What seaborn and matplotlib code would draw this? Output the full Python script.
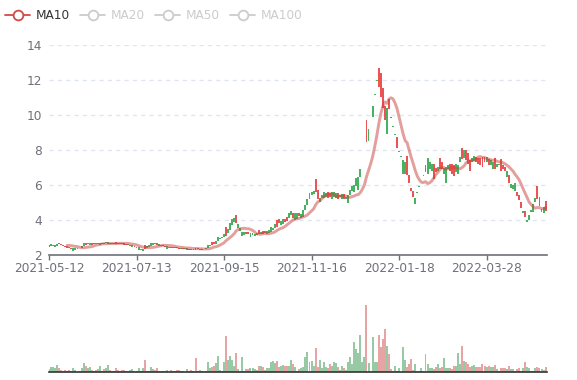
import numpy as np
import pandas as pd
import matplotlib
matplotlib.use('Agg')
import matplotlib.pyplot as plt
import seaborn as sns

# white background, no seaborn grid (we draw the dashed one ourselves)
sns.set_theme(style='white')
plt.rcParams['font.family'] = ['DejaVu Sans']

#
# data (one candle per trading day)
#

tick_labels = ['2021-05-12', '2021-07-13', '2021-09-15',
               '2021-11-16', '2022-01-18', '2022-03-28']
tick_step = 43

opens = [
    2.45, 2.60, 2.56, 2.55, 2.62, 2.58, 2.55, 2.49, 2.44, 2.39,
    2.37, 2.34, 2.38, 2.36, 2.34, 2.40, 2.50, 2.68, 2.55, 2.66,
    2.64, 2.57, 2.60, 2.60, 2.66, 2.66, 2.60, 2.60, 2.69, 2.70,
    2.60, 2.66, 2.65, 2.60, 2.62, 2.66, 2.59, 2.57, 2.56, 2.58,
    2.56, 2.52, 2.42, 2.45, 2.42, 2.32, 2.34, 2.32, 2.50, 2.52,
    2.65, 2.66, 2.58, 2.55, 2.58, 2.54, 2.46, 2.44, 2.46, 2.44,
    2.38, 2.38, 2.41, 2.35, 2.34, 2.38, 2.33, 2.36, 2.36, 2.27,
    2.26, 2.31, 2.24, 2.30, 2.34, 2.27, 2.33, 2.38, 2.54, 2.56,
    2.55, 2.62, 2.78, 2.98, 2.92, 3.00, 3.15, 3.06, 3.45, 3.78,
    4.05, 4.08, 3.78, 3.72, 3.50, 3.30, 3.30, 3.15, 3.18, 3.22,
    3.25, 3.20, 3.22, 3.18, 3.30, 3.20, 3.22, 3.32, 3.40, 3.58,
    3.52, 3.74, 3.57, 3.78, 3.92, 4.02, 3.85, 3.90, 4.37, 4.50,
    4.10, 4.35, 4.40, 4.20, 4.32, 4.54, 4.83, 5.17, 5.53, 5.60,
    5.65, 5.60, 5.20, 5.21, 5.40, 5.55, 5.50, 5.25, 5.30, 5.60,
    5.55, 5.50, 5.20, 5.40, 5.45, 5.15, 5.30, 5.40, 5.70, 5.90,
    6.00, 6.40, 6.45, 6.90, 7.20, 8.00, 8.45, 9.20, 9.06, 10.50,
    11.17, 11.99, 11.60, 11.00, 10.40, 9.70, 10.40, 10.30, 9.80, 9.30,
    8.90, 8.10, 7.90, 7.60, 7.40, 7.30, 6.55, 6.10, 5.65, 5.30,
    5.25, 5.55, 5.90, 6.20, 6.50, 6.70, 7.50, 7.30, 7.20, 6.30,
    6.70, 7.00, 6.90, 6.90, 6.95, 7.00, 7.10, 6.80, 6.60, 6.50,
    7.20, 7.10, 7.60, 7.45, 8.00, 7.40, 7.20, 6.80, 7.50, 7.65,
    7.30, 7.20, 7.10, 7.00, 7.30, 7.60, 7.10, 7.40, 7.30, 6.90,
    7.20, 7.15, 6.75, 6.90, 6.80, 6.80, 6.10, 6.05, 6.00, 6.10,
    5.35, 5.10, 4.65, 4.50, 4.15, 4.00, 4.25, 4.55, 4.90, 5.22,
    5.20, 4.80, 4.60, 4.73, 4.50,
]

closes = [
    2.55, 2.48, 2.46, 2.45, 2.50, 2.67, 2.62, 2.56, 2.51, 2.46,
    2.43, 2.40, 2.22, 2.28, 2.32, 2.35, 2.40, 2.50, 2.66, 2.58,
    2.56, 2.63, 2.65, 2.66, 2.58, 2.55, 2.64, 2.68, 2.63, 2.58,
    2.67, 2.62, 2.61, 2.69, 2.68, 2.62, 2.65, 2.63, 2.60, 2.52,
    2.48, 2.44, 2.48, 2.39, 2.28, 2.24, 2.22, 2.55, 2.40, 2.44,
    2.50, 2.56, 2.66, 2.68, 2.50, 2.48, 2.52, 2.50, 2.30, 2.40,
    2.45, 2.43, 2.36, 2.41, 2.40, 2.34, 2.38, 2.33, 2.27, 2.33,
    2.34, 2.25, 2.40, 2.36, 2.27, 2.33, 2.29, 2.32, 2.35, 2.46,
    2.72, 2.70, 2.62, 2.75, 2.86, 2.92, 3.00, 3.55, 3.22, 3.42,
    3.70, 3.88, 4.25, 3.50, 3.32, 3.05, 3.12, 3.28, 3.26, 3.02,
    3.12, 3.05, 3.10, 3.38, 3.15, 3.35, 3.32, 3.18, 3.22, 3.30,
    3.40, 3.50, 3.97, 4.03, 3.68, 3.76, 4.05, 4.12, 4.08, 4.26,
    4.35, 4.00, 4.05, 4.35, 4.10, 4.16, 4.54, 4.83, 5.17, 5.40,
    5.45, 6.30, 5.70, 5.02, 5.25, 5.25, 5.30, 5.55, 5.50, 5.20,
    5.30, 5.25, 5.50, 5.30, 5.20, 5.45, 5.15, 4.95, 5.40, 5.65,
    5.60, 5.90, 5.70, 6.45, 7.15, 7.95, 9.70, 8.50, 9.04, 9.87,
    11.13, 11.95, 12.67, 12.40, 11.50, 10.50, 8.90, 10.90, 9.82, 9.28,
    8.85, 8.70, 7.88, 7.58, 6.60, 6.60, 7.65, 6.55, 5.80, 5.62,
    4.90, 5.52, 5.88, 6.18, 6.48, 7.10, 6.60, 6.90, 6.80, 7.20,
    6.95, 6.80, 7.50, 7.30, 6.60, 6.10, 6.90, 7.20, 7.20, 7.10,
    6.70, 6.60, 7.30, 8.10, 7.50, 7.95, 7.80, 7.40, 7.30, 7.35,
    7.60, 7.50, 7.50, 7.55, 7.60, 7.30, 7.45, 7.10, 6.90, 7.50,
    7.00, 7.12, 7.45, 7.10, 7.00, 6.45, 6.55, 5.80, 5.75, 5.65,
    5.55, 5.40, 4.98, 4.35, 4.50, 3.85, 4.00, 4.45, 4.45, 5.00,
    5.90, 5.30, 4.45, 4.35, 5.05,
]

volumes = [
    5, 8, 8, 7, 11, 6, 3.5, 2.5, 4, 2.5,
    3.5, 2, 7, 3.5, 0.5, 2, 7, 14, 10, 6,
    8, 3.5, 2.5, 3.5, 5, 10, 1.5, 5, 6, 11,
    4, 1.5, 1.5, 7, 3.5, 1.5, 3.5, 3.5, 2, 2,
    3.5, 4.5, 2.5, 2, 6, 1.5, 6, 18, 1.5, 2.5,
    8, 5, 3.5, 6, 2.5, 1.5, 1.5, 2.5, 3.5, 1,
    3.5, 2, 1.5, 3.5, 3.5, 1.5, 2.5, 1, 4.5, 2.5,
    3.5, 2, 21, 2.5, 3, 2, 1, 2, 16, 7,
    8, 9, 14, 24, 3.5, 2.5, 15, 54, 18, 24,
    18, 9, 28, 5, 2, 23, 2.5, 5, 5, 6,
    6, 5, 3.5, 10, 9, 8, 3.5, 6, 7, 16,
    17, 14, 17, 8, 10, 11, 10, 10, 10, 18,
    12, 8.5, 2.5, 5, 6, 8.5, 22, 30, 16, 17,
    9, 36, 8.5, 18, 7, 15, 8.5, 6.5, 12, 9,
    15, 14.5, 8.5, 3.5, 9, 7, 3.5, 15, 22, 12,
    45, 35, 29, 55, 16, 22, 100, 14.5, 2.5, 52,
    16, 16, 55, 37, 50, 64, 39, 27, 5, 2.5,
    10, 2, 6.5, 1, 37, 18, 8.5, 12, 20, 3.5,
    13, 1.5, 2.5, 6, 2.5, 27, 12, 6, 6, 4.5,
    7.5, 12, 6, 7.5, 21, 7, 7, 6, 4.5, 9.5,
    10, 28, 13, 39, 16.5, 15, 12.5, 8.5, 9.5, 10.5,
    8.5, 8, 8.5, 12, 9.5, 7.5, 9.5, 7.5, 8.5, 11,
    5, 2.5, 6, 6, 6, 4.5, 9.5, 4.5, 5, 2.5,
    4.5, 6, 1.5, 6.5, 15, 7.5, 6, 2.5, 2.5, 6.5,
    8, 6.5, 4.5, 4, 8,
]

UP = '#eb5454'
DOWN = '#47b262'
AXIS = '#6e7079'

df = pd.DataFrame({'open': opens, 'close': closes, 'volume': volumes})
df['day'] = np.arange(len(df))
df['dir'] = np.where(df.close >= df.open, 'up', 'down')
df['ma10'] = df.close.rolling(10).mean()

n = len(df)
W, H = 577, 380
fig = plt.figure(figsize=(W / 100, H / 100), dpi=100)

#
# price panel
#

ax = fig.add_axes([49 / W, 1 - 254.5 / H, 498 / W, (254.5 - 44.7) / H])
lo = df[['open', 'close']].min(axis=1)
body = (df.close - df.open).abs().clip(lower=0.05)
ax.bar(df.day, body, bottom=lo, width=0.95,
       color=[UP if d == 'up' else DOWN for d in df.dir], linewidth=0,
       antialiased=False, zorder=3)
sns.lineplot(data=df, x='day', y='ma10', ax=ax, color='#c9403a', alpha=0.5,
             lw=2.1, zorder=4)

ax.set_xlim(0, n - 0.3)
ax.set_ylim(2, 14)
ax.set_yticks(range(2, 15, 2))
ax.set_xticks([k * tick_step for k in range(len(tick_labels))])
ax.set_xticklabels(tick_labels)
ax.set_xlabel('')
ax.set_ylabel('')
for y in range(4, 15, 2):
    ax.axhline(y, color='#e0e6f1', lw=1, ls=(0, (3, 3)), zorder=1)
for s in ['left', 'right', 'top']:
    ax.spines[s].set_visible(False)
ax.spines['bottom'].set_color(AXIS)
ax.spines['bottom'].set_linewidth(1.2)
ax.tick_params(axis='x', length=3.6, width=1, color=AXIS, pad=1.5,
               labelsize=8.7, labelcolor=AXIS, direction='out', bottom=True)
ax.tick_params(axis='y', length=0, pad=5, labelsize=8.7, labelcolor=AXIS)

#
# volume panel
#

axv = fig.add_axes([49 / W, 1 - 372.3 / H, 498 / W, (372.3 - 305) / H])
sns.barplot(data=df, x='day', y='volume', hue='dir', ax=axv,
            palette={'up': UP, 'down': DOWN}, native_scale=True,
            dodge=False, width=0.98, alpha=0.6, linewidth=0, legend=False,
            antialiased=False)
axv.set_xlim(0, n - 0.3)
axv.set_ylim(0, 100)
axv.set_xticks([])
axv.set_yticks([])
axv.set_xlabel('')
axv.set_ylabel('')
for s in ['left', 'right', 'top']:
    axv.spines[s].set_visible(False)
axv.spines['bottom'].set_color('#333333')
axv.spines['bottom'].set_linewidth(1.2)

#
# legend (MA10 active, the others switched off)
#

lg = fig.add_axes([0, 0, 1, 1])
lg.set_xlim(0, W)
lg.set_ylim(H, 0)
lg.axis('off')
legend_items = [('MA10', '#d14a46', '#333333'),
                ('MA20', '#cccccc', '#cccccc'),
                ('MA50', '#cccccc', '#cccccc'),
                ('MA100', '#cccccc', '#cccccc')]
for k, (name, icon_col, text_col) in enumerate(legend_items):
    x0 = 5 + 75 * k
    lg.plot([x0, x0 + 25], [15, 15], color=icon_col, lw=1.3)
    lg.plot(x0 + 12.5, 15, 'o', ms=7, mfc='white', mec=icon_col, mew=1.3)
    lg.text(x0 + 31, 15.5, name, color=text_col, fontsize=8.7, va='center')

fig.savefig('out.png', dpi=100)
